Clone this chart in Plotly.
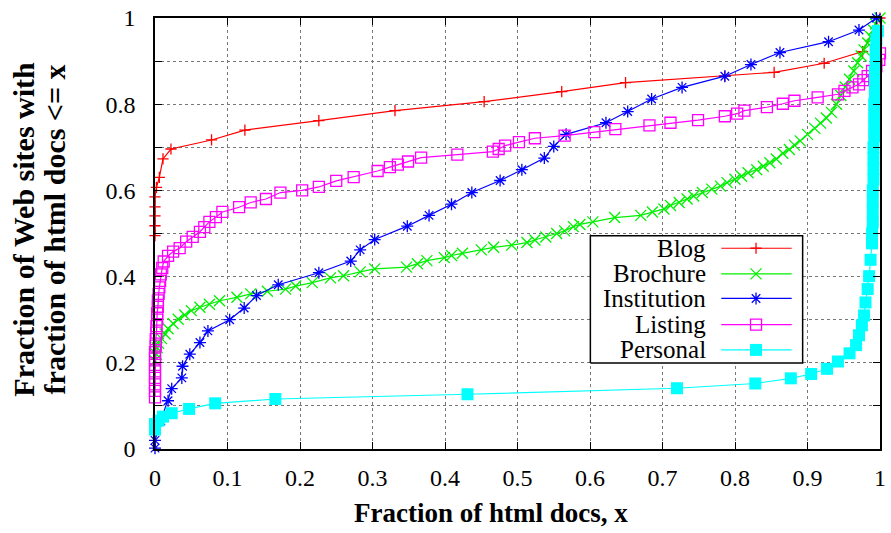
import plotly.graph_objects as go

# ---------------- data ----------------
blog_x = [0, 0, 0, 0, 0, 0.002, 0.006, 0.011, 0.022, 0.078, 0.124, 0.226, 0.331,
          0.454, 0.561, 0.649, 0.786, 0.854, 0.923, 0.976, 1.0]
blog_y = [0.495, 0.518, 0.541, 0.562, 0.585, 0.607, 0.63, 0.673, 0.696, 0.717, 0.74,
          0.762, 0.785, 0.806, 0.829, 0.85, 0.865, 0.874, 0.895, 0.922, 1.0]

brochure_x = [0.0, 0.002, 0.003, 0.005, 0.009, 0.014, 0.018, 0.025, 0.032, 0.041, 0.05,
              0.062, 0.075, 0.089, 0.113, 0.132, 0.155, 0.18, 0.194, 0.217, 0.242, 0.26,
              0.283, 0.303, 0.347, 0.362, 0.375, 0.399, 0.409, 0.424, 0.45, 0.467, 0.492,
              0.513, 0.524, 0.539, 0.554, 0.565, 0.577, 0.586, 0.604, 0.634, 0.67, 0.686,
              0.702, 0.711, 0.723, 0.734, 0.743, 0.755, 0.768, 0.78, 0.789, 0.8, 0.809,
              0.818, 0.83, 0.839, 0.848, 0.857, 0.866, 0.875, 0.882, 0.89, 0.9, 0.91,
              0.918, 0.926, 0.933, 0.94, 0.946, 0.952, 0.958, 0.964, 0.969, 0.974, 0.978,
              0.983, 0.987, 0.991, 0.994, 1.0]
brochure_y = [0.205, 0.22, 0.235, 0.245, 0.256, 0.267, 0.279, 0.291, 0.301, 0.311, 0.321,
              0.329, 0.336, 0.344, 0.352, 0.36, 0.366, 0.371, 0.378, 0.386, 0.397, 0.402,
              0.411, 0.418, 0.422, 0.43, 0.437, 0.444, 0.449, 0.454, 0.462, 0.468, 0.473,
              0.479, 0.485, 0.492, 0.5, 0.506, 0.516, 0.521, 0.527, 0.537, 0.542, 0.55,
              0.557, 0.565, 0.572, 0.58, 0.587, 0.595, 0.603, 0.61, 0.618, 0.626, 0.633,
              0.641, 0.648, 0.656, 0.664, 0.673, 0.686, 0.695, 0.705, 0.715, 0.73, 0.744,
              0.756, 0.768, 0.781, 0.8, 0.82, 0.84, 0.858, 0.877, 0.896, 0.912, 0.926,
              0.942, 0.957, 0.972, 0.986, 1.0]

institution_x = [0, 0, 0.008, 0.018, 0.023, 0.037, 0.038, 0.048, 0.062, 0.073, 0.103, 0.123,
                 0.14, 0.17, 0.226, 0.27, 0.283, 0.303, 0.348, 0.378, 0.409, 0.437, 0.476,
                 0.506, 0.537, 0.55, 0.567, 0.622, 0.652, 0.685, 0.727, 0.786, 0.822, 0.862,
                 0.929, 0.971, 0.995]
institution_y = [0.002, 0.02, 0.065, 0.112, 0.14, 0.165, 0.192, 0.22, 0.247, 0.274, 0.3, 0.327,
                 0.356, 0.381, 0.409, 0.436, 0.462, 0.486, 0.517, 0.542, 0.568, 0.595, 0.623,
                 0.648, 0.675, 0.702, 0.73, 0.757, 0.783, 0.812, 0.839, 0.865, 0.892, 0.92,
                 0.945, 0.972, 1.0]

listing_x = [0, 0, 0, 0, 0, 0, 0, 0, 0.001, 0.001, 0.002, 0.002, 0.003, 0.003, 0.004, 0.004,
             0.005, 0.006, 0.007, 0.008, 0.010, 0.012, 0.018, 0.025, 0.034, 0.043, 0.052,
             0.062, 0.068, 0.075, 0.084, 0.093, 0.116, 0.132, 0.153, 0.173, 0.203, 0.226,
             0.25, 0.274, 0.307, 0.324, 0.335, 0.349, 0.367, 0.417, 0.466, 0.474, 0.483,
             0.502, 0.524, 0.565, 0.606, 0.635, 0.682, 0.711, 0.749, 0.786, 0.803, 0.813,
             0.844, 0.866, 0.882, 0.914, 0.942, 0.951, 0.962, 0.971, 0.977, 0.983, 0.989,
             0.995, 0.999, 1.0]
listing_y = [0.12, 0.135, 0.15, 0.165, 0.18, 0.195, 0.21, 0.225, 0.24, 0.255, 0.27, 0.285,
             0.30, 0.315, 0.33, 0.345, 0.36, 0.375, 0.39, 0.405, 0.42, 0.435, 0.448, 0.458,
             0.466, 0.481, 0.492, 0.504, 0.515, 0.527, 0.538, 0.55, 0.561, 0.572, 0.58,
             0.595, 0.6, 0.608, 0.622, 0.631, 0.645, 0.654, 0.66, 0.667, 0.676, 0.683,
             0.69, 0.696, 0.704, 0.712, 0.721, 0.727, 0.735, 0.742, 0.751, 0.757, 0.763,
             0.772, 0.778, 0.785, 0.793, 0.801, 0.808, 0.816, 0.823, 0.831, 0.839, 0.846,
             0.856, 0.865, 0.877, 0.888, 0.903, 0.918, 0.937, 0.957, 0.965]

personal_x = [0, 0, 0.005, 0.011, 0.023, 0.047, 0.083, 0.166, 0.431, 0.72, 0.828, 0.877,
              0.905, 0.927, 0.942, 0.958, 0.967, 0.971, 0.975, 0.978, 0.98, 0.983, 0.985,
              0.987, 0.989, 0.989, 0.99, 0.99, 0.99, 0.99, 0.991, 0.991, 0.991, 0.991,
              0.992, 0.992, 0.992, 0.992, 0.993, 0.993, 0.993, 0.994, 0.994, 0.995, 0.997]
personal_y = [0.045, 0.058, 0.066, 0.075, 0.083, 0.093, 0.106, 0.116, 0.127, 0.141, 0.152,
              0.164, 0.174, 0.186, 0.203, 0.222, 0.241, 0.264, 0.287, 0.31, 0.34, 0.371,
              0.401, 0.439, 0.477, 0.5, 0.525, 0.55, 0.575, 0.6, 0.625, 0.65, 0.675, 0.7,
              0.725, 0.75, 0.775, 0.8, 0.825, 0.85, 0.875, 0.9, 0.925, 0.95, 0.97]

series_names = ["Blog", "Brochure", "Institution", "Listing", "Personal"]
series_x = [blog_x, brochure_x, institution_x, listing_x, personal_x]
series_y = [blog_y, brochure_y, institution_y, listing_y, personal_y]
colors = ["#ff0000", "#00f000", "#0000ff", "#ff00ff", "#00ffff"]
symbols = ["cross-thin-open", "x-thin-open", "asterisk-open", "square-open", "square"]
sizes = [8, 11, 10, 11, 12]

x_ticks = [0, 0.1, 0.2, 0.3, 0.4, 0.5, 0.6, 0.7, 0.8, 0.9, 1]
x_tick_text = ["0", "0.1", "0.2", "0.3", "0.4", "0.5", "0.6", "0.7", "0.8", "0.9", "1"]
y_ticks = [0, 0.1, 0.2, 0.3, 0.4, 0.5, 0.6, 0.7, 0.8, 0.9, 1]
y_tick_text = ["0", "", "0.2", "", "0.4", "", "0.6", "", "0.8", "", "1"]

FONT = "Liberation Serif, Times New Roman, Times, serif"

fig = go.Figure()

def marker_for(i):
    if symbols[i] == "square":
        return dict(symbol=symbols[i], size=sizes[i], color=colors[i],
                    line=dict(width=0, color=colors[i]))
    return dict(symbol=symbols[i], size=sizes[i], color=colors[i],
                line=dict(width=1.3, color=colors[i]))

for i, name in enumerate(series_names):
    fig.add_trace(go.Scatter(
        x=series_x[i], y=series_y[i], mode="lines+markers", name=name,
        line=dict(color=colors[i], width=1.2),
        marker=marker_for(i), cliponaxis=False, showlegend=False))

# ---------------- custom key (gnuplot style: text left, sample right) ----------------
box_x0, box_x1, box_y0, box_y1 = 0.6005, 0.8933, 0.1993, 0.4947
fig.add_trace(go.Scatter(
    x=[box_x0, box_x1, box_x1, box_x0, box_x0],
    y=[box_y0, box_y0, box_y1, box_y1, box_y0],
    xaxis="x2", yaxis="y2", mode="lines", fill="toself", fillcolor="white",
    line=dict(color="black", width=1.5), showlegend=False, hoverinfo="skip"))

key_rows = [0.4658, 0.4064, 0.3493, 0.2884, 0.2299]
sample_x0, sample_x1, sample_xm = 0.7811, 0.8782, 0.829
text_right = 0.7625
for i, name in enumerate(series_names):
    ry = key_rows[i]
    fig.add_trace(go.Scatter(
        x=[sample_x0, sample_x1], y=[ry, ry], xaxis="x2", yaxis="y2", mode="lines",
        line=dict(color=colors[i], width=1.2), showlegend=False, hoverinfo="skip"))
    fig.add_trace(go.Scatter(
        x=[sample_xm], y=[ry], xaxis="x2", yaxis="y2", mode="markers",
        marker=marker_for(i), showlegend=False, hoverinfo="skip"))
    fig.add_annotation(x=text_right, y=ry, xref="paper", yref="paper", text=name,
                       showarrow=False, xanchor="right", yanchor="middle",
                       font=dict(family=FONT, size=25, color="black"))

axis_common = dict(
    range=[0, 1], showline=True, linecolor="black", linewidth=1.5, mirror="ticks",
    ticks="inside", ticklen=7, tickwidth=1.2, tickcolor="black",
    showgrid=True, gridcolor="#777777", griddash="dot", gridwidth=1,
    zeroline=False, tickfont=dict(family=FONT, size=24, color="black"),
    ticklabeloverflow="allow",
)

fig.update_layout(
    width=891, height=533,
    margin=dict(l=155, r=5, t=11, b=84),
    plot_bgcolor="white", paper_bgcolor="white",
    font=dict(family=FONT),
    xaxis=dict(**axis_common, tickmode="array", tickvals=x_ticks, ticktext=x_tick_text,
               ticklabelstandoff=6),
    yaxis=dict(**axis_common, tickmode="array", tickvals=y_ticks, ticktext=y_tick_text,
               ticklabelstandoff=13),
    xaxis2=dict(overlaying="x", range=[0, 1], visible=False),
    yaxis2=dict(overlaying="y", range=[0, 1], visible=False),
    showlegend=False,
)

fig.add_annotation(x=0.4637, y=-0.1484, xref="paper", yref="paper",
                   text="<b>Fraction of html docs, x</b>", showarrow=False,
                   xanchor="center", yanchor="middle",
                   font=dict(family=FONT, size=27, color="black"))
fig.add_annotation(x=-0.1806, y=0.509, xref="paper", yref="paper",
                   text="<b>Fraction of Web sites with</b>",
                   showarrow=False, textangle=-90, xanchor="center", yanchor="middle",
                   font=dict(family=FONT, size=30, color="black"))
fig.add_annotation(x=-0.1382, y=0.509, xref="paper", yref="paper",
                   text="<b>fraction of html docs &lt;= x</b>",
                   showarrow=False, textangle=-90, xanchor="center", yanchor="middle",
                   font=dict(family=FONT, size=30, color="black"))

fig.write_html("out.html", config={"displayModeBar": False},
               post_script="document.body.style.margin='0';")
